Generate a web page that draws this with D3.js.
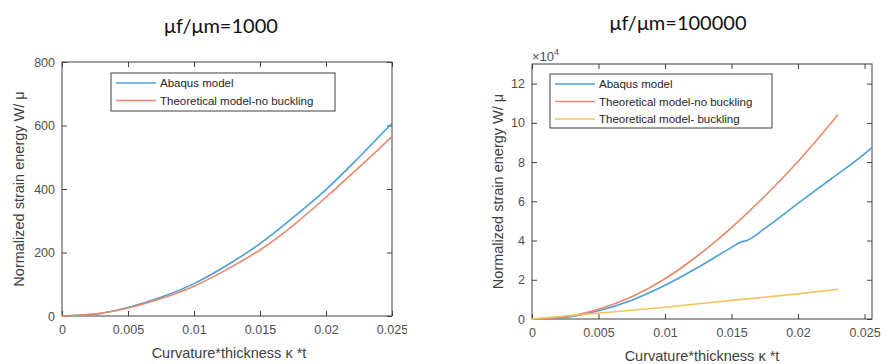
<!DOCTYPE html>
<html>
<head>
<meta charset="utf-8">
<script src="https://cdn.jsdelivr.net/npm/d3@7"></script>
<style>
  body { margin: 0; background: #fff; }
  svg { display: block; }
  .tick text { font-family: "Liberation Sans", Arial, sans-serif; font-size: 12.5px; fill: #505050; }
  .tick line { stroke: #404040; }
  .axis-title { font-family: "Liberation Sans", Arial, sans-serif; font-size: 14.5px; fill: #404040; }
  .legend text { font-family: "Liberation Sans", Arial, sans-serif; font-size: 11.5px; fill: #262626; }
  .panel-title { font-family: Lato, "Open Sans", sans-serif; font-size: 20px; fill: #111; }
</style>
</head>
<body>
<div id="chart"></div>
<script>
// Left panel: muf/mum = 1000
const leftKt = [0, 0.0025, 0.005, 0.0075, 0.01, 0.0125, 0.015, 0.0175, 0.02, 0.0225, 0.025];
const leftAbaqus = [0, 6, 27, 59, 102, 160, 228, 310, 398, 500, 607];
const leftNoBuckling = [0, 6, 25, 55, 94, 147, 208, 285, 374, 468, 565];
const leftYTicks = [0, 200, 400, 600, 800];

// Right panel: muf/mum = 100000
const rightAbaqusKt = [0, 0.0025, 0.005, 0.0075, 0.01, 0.0125, 0.015, 0.0157, 0.0162, 0.0175, 0.02, 0.0225, 0.025, 0.02556];
const rightAbaqus = [0, 800, 4200, 9600, 17200, 26400, 36500, 39200, 40200, 46200, 59000, 71500, 84200, 87400];
const rightNoBucklingKt = [0, 0.0025, 0.005, 0.0075, 0.01, 0.0125, 0.015, 0.0175, 0.02, 0.0225, 0.023];
const rightNoBuckling = [0, 1200, 5000, 11300, 20500, 32500, 46600, 62600, 80300, 100000, 104200];
const rightBucklingKt = [0, 0.005, 0.01, 0.015, 0.02, 0.023];
const rightBuckling = [0, 3000, 6000, 9500, 12800, 15200];
const rightYTicks = [0, 20000, 40000, 60000, 80000, 100000, 120000];

const xTicks = [0, 0.005, 0.01, 0.015, 0.02, 0.025];

const colors = { abaqus: "#4a9fd8", noBuckling: "#e8896a", buckling: "#f2c55c" };

const svg = d3.select("#chart").append("svg")
  .attr("width", 885)
  .attr("height", 364);

// the left figure was cropped on its right side in the original
svg.append("defs").append("clipPath")
  .attr("id", "leftcrop")
  .append("rect")
  .attr("x", 0).attr("y", 0).attr("width", 407).attr("height", 364);

function zip(xs, ys) {
  return xs.map((x, i) => ({ x: x, y: ys[i] }));
}

function drawPanel(cfg) {
  const g = svg.append("g");
  if (cfg.clip) g.attr("clip-path", "url(#" + cfg.clip + ")");

  const x = d3.scaleLinear().domain(cfg.xDomain).range([cfg.left, cfg.right]);
  const y = d3.scaleLinear().domain(cfg.yDomain).range([cfg.bottom, cfg.top]);

  // ticks pointing inwards, MATLAB style
  g.append("g")
    .attr("transform", "translate(0," + cfg.bottom + ")")
    .call(d3.axisBottom(x).tickValues(xTicks).tickSize(-5).tickPadding(9).tickFormat(d3.format("~g")))
    .call(a => a.select(".domain").remove());
  g.append("g")
    .attr("transform", "translate(0," + cfg.top + ")")
    .call(d3.axisTop(x).tickValues(xTicks).tickSize(-5).tickFormat(""))
    .call(a => a.select(".domain").remove());
  g.append("g")
    .attr("transform", "translate(" + cfg.left + ",0)")
    .call(d3.axisLeft(y).tickValues(cfg.yTicks).tickSize(-5).tickPadding(7).tickFormat(cfg.yFormat))
    .call(a => a.select(".domain").remove());
  g.append("g")
    .attr("transform", "translate(" + cfg.right + ",0)")
    .call(d3.axisRight(y).tickValues(cfg.yTicks).tickSize(-5).tickFormat(""))
    .call(a => a.select(".domain").remove());

  g.append("rect")
    .attr("x", cfg.left).attr("y", cfg.top)
    .attr("width", cfg.right - cfg.left).attr("height", cfg.bottom - cfg.top)
    .attr("fill", "none").attr("stroke", "#404040").attr("stroke-width", 1);

  const line = d3.line().x(d => x(d.x)).y(d => y(d.y)).curve(d3.curveMonotoneX);
  cfg.series.forEach(s => {
    g.append("path")
      .datum(zip(s.x, s.y))
      .attr("fill", "none")
      .attr("stroke", s.color)
      .attr("stroke-width", 1.6)
      .attr("d", line);
  });

  // legend
  const lg = g.append("g").attr("class", "legend");
  lg.append("rect")
    .attr("x", cfg.legend.x).attr("y", cfg.legend.y)
    .attr("width", cfg.legend.w).attr("height", cfg.legend.h)
    .attr("fill", "#fff").attr("stroke", "#404040").attr("stroke-width", 1);
  cfg.series.forEach((s, i) => {
    const ly = cfg.legend.y + 10 + i * 17.5;
    lg.append("line")
      .attr("x1", cfg.legend.x + 5).attr("x2", cfg.legend.x + 45)
      .attr("y1", ly).attr("y2", ly)
      .attr("stroke", s.color).attr("stroke-width", 1.6);
    lg.append("text")
      .attr("x", cfg.legend.x + 49).attr("y", ly + 4)
      .text(s.name);
  });

  g.append("text")
    .attr("class", "axis-title")
    .attr("x", (cfg.left + cfg.right) / 2 + cfg.xLabelShift)
    .attr("y", cfg.bottom + 42)
    .attr("text-anchor", "middle")
    .text("Curvature*thickness κ *t");

  g.append("text")
    .attr("class", "axis-title")
    .attr("transform", "translate(" + cfg.yLabelX + "," + (cfg.top + cfg.bottom) / 2 + ") rotate(-90)")
    .attr("text-anchor", "middle")
    .text("Normalized strain energy W/ μ");

  g.append("text")
    .attr("class", "panel-title")
    .attr("x", cfg.titleX).attr("y", cfg.titleY)
    .attr("text-anchor", "middle")
    .text(cfg.title);

  return g;
}

drawPanel({
  clip: "leftcrop",
  left: 62, right: 392, top: 62, bottom: 316,
  xDomain: [0, 0.025], yDomain: [0, 800], yTicks: leftYTicks,
  yFormat: d3.format("d"),
  series: [
    { name: "Abaqus model", x: leftKt, y: leftAbaqus, color: colors.abaqus },
    { name: "Theoretical model-no buckling", x: leftKt, y: leftNoBuckling, color: colors.noBuckling }
  ],
  legend: { x: 111, y: 73, w: 224, h: 38 },
  xLabelShift: 2, yLabelX: 24,
  title: "μf/μm=1000", titleX: 221, titleY: 33
});

const right = drawPanel({
  left: 532, right: 872, top: 64, bottom: 319,
  xDomain: [0, 0.02556], yDomain: [0, 130000], yTicks: rightYTicks,
  yFormat: d => d3.format("d")(d / 10000),
  series: [
    { name: "Abaqus model", x: rightAbaqusKt, y: rightAbaqus, color: colors.abaqus },
    { name: "Theoretical model-no buckling", x: rightNoBucklingKt, y: rightNoBuckling, color: colors.noBuckling },
    { name: "Theoretical model- buckling", x: rightBucklingKt, y: rightBuckling, color: colors.buckling }
  ],
  legend: { x: 550, y: 74, w: 222, h: 54 },
  xLabelShift: 0, yLabelX: 503,
  title: "μf/μm=100000", titleX: 678, titleY: 30
});

// exponent label above the y axis
const expo = right.append("text")
  .attr("x", 532).attr("y", 61)
  .attr("font-family", "Liberation Sans, Arial, sans-serif")
  .attr("font-size", "13px")
  .attr("fill", "#505050");
expo.append("tspan").text("×10");
expo.append("tspan").attr("dy", -6).attr("font-size", "9px").text("4");
</script>
</body>
</html>
